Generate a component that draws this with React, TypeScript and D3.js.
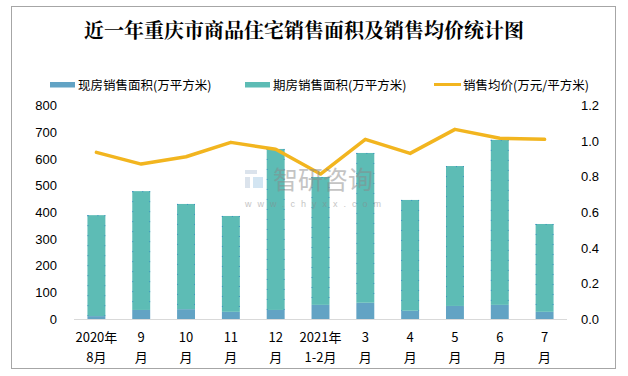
import React from "react";
import * as d3 from "d3";

const categories = ["2020年|8月", "9|月", "10|月", "11|月", "12|月", "2021年|1-2月", "3|月", "4|月", "5|月", "6|月", "7|月"];
const currentArea = [12, 35, 38, 28, 35, 54, 62, 32, 50, 54, 28];
const futureArea = [378, 445, 394, 359, 603, 479, 561, 415, 524, 618, 329];
const avgPrice = [0.938, 0.872, 0.913, 0.994, 0.955, 0.816, 1.011, 0.932, 1.067, 1.017, 1.011];
const leftTicks = [0, 100, 200, 300, 400, 500, 600, 700, 800];
const rightTicks = [0, 0.2, 0.4, 0.6, 0.8, 1.0, 1.2];

const title = "近一年重庆市商品住宅销售面积及销售均价统计图";
const legendCurrent = "现房销售面积(万平方米)";
const legendFuture = "期房销售面积(万平方米)";
const legendPrice = "销售均价(万元/平方米)";

const C_BLUE = "#62a3c4";
const C_TEAL = "#5dbcb5";
const C_ORANGE = "#f2b51f";
const FONT = "'Liberation Sans', 'Noto Sans CJK SC', sans-serif";
const CJK = "'Noto Sans CJK SC', sans-serif";

export default function App() {
  const x = d3.scaleBand<string>().domain(categories).range([74, 567]).paddingInner(0.6).paddingOuter(0.3);
  const y = d3.scaleLinear().domain([0, 800]).range([319.3, 105.7]);
  const y2 = d3.scaleLinear().domain([0, 1.2]).range([319.3, 105.7]);
  const bw = x.bandwidth();
  const cx = (c: string) => (x(c) as number) + bw / 2;

  const line = d3
    .line<number>()
    .x((_, i) => cx(categories[i]))
    .y((d) => y2(d));

  return (
    <svg
      width={628}
      height={376}
      style={{ position: "absolute", left: 0, top: 0, background: "#fff" }}
      fontFamily={FONT}
    >
      <rect x={0} y={0} width={628} height={376} fill="#fff" />
      <rect x={11.5} y={6.5} width={604} height={362} fill="none" stroke="#a6a6a6" strokeWidth={1} />

      <text x={304} y={38} textAnchor="middle" fontSize={20} fontWeight="bold" fontFamily="'Noto Serif CJK SC', 'Noto Sans CJK SC', serif" fill="#000">
        {title}
      </text>

      {/* legend */}
      <rect x={50} y={82} width={25} height={5.5} fill={C_BLUE} />
      <text x={78} y={89.5} fontSize={12.5} fontFamily={CJK} fill="#000">{legendCurrent}</text>
      <rect x={245} y={82} width={25} height={5.5} fill={C_TEAL} />
      <text x={273} y={89.5} fontSize={12.5} fontFamily={CJK} fill="#000">{legendFuture}</text>
      <line x1={434} x2={461} y1={84.5} y2={84.5} stroke={C_ORANGE} strokeWidth={3} />
      <text x={463} y={89.5} fontSize={12.5} fontFamily={CJK} fill="#000">{legendPrice}</text>

      {/* bars */}
      {categories.map((c, i) => {
        const bx = x(c) as number;
        const y0 = y(0);
        const y1 = y(currentArea[i]);
        const y2t = y(currentArea[i] + futureArea[i]);
        return (
          <g key={c}>
            <rect x={bx} y={y1} width={bw} height={y0 - y1} fill={C_BLUE} />
            <rect x={bx} y={y2t} width={bw} height={y1 - y2t} fill={C_TEAL} />
            <line x1={bx + 0.5} x2={bx + 0.5} y1={y2t} y2={y1} stroke="#3b8fc4" strokeWidth={1} strokeDasharray="1,9" />
            <line x1={bx + bw - 0.5} x2={bx + bw - 0.5} y1={y2t} y2={y1} stroke="#3b8fc4" strokeWidth={1} strokeDasharray="1,9" />
            <line x1={bx} x2={bx + bw} y1={y2t + 0.5} y2={y2t + 0.5} stroke="#3b8fc4" strokeWidth={1} strokeDasharray="1,9" />
          </g>
        );
      })}

      {/* baseline */}
      <line x1={74} x2={567} y1={319.5} y2={319.5} stroke="#d9d9d9" strokeWidth={1} />

      {/* price line */}
      <path d={line(avgPrice) || ""} fill="none" stroke={C_ORANGE} strokeWidth={3.5} strokeLinejoin="round" strokeLinecap="round" />

      {/* watermark */}
      <g opacity={0.5}>
        <rect x={245} y={170} width={12} height={4} fill="#b9c9da" />
        <rect x={245} y={177} width={5} height={11} fill="#b9c9da" />
        <rect x={253} y={177} width={10} height={11} fill="#a9cde6" />
        <text x={273} y={189} fontSize={25} fontFamily={CJK} fill="#8a8a8a">智研咨询</text>
        <text x={245} y={207} fontSize={9} fontFamily={FONT} fill="#8a8a8a" letterSpacing={6}>www.chyxx.com</text>
      </g>

      {/* left axis */}
      {leftTicks.map((t) => (
        <text key={t} x={57} y={y(t) + 4.5} textAnchor="end" fontSize={13} fill="#000">
          {t}
        </text>
      ))}
      {/* right axis */}
      {rightTicks.map((t) => (
        <text key={t} x={581} y={y2(t) + 4.5} textAnchor="start" fontSize={13} fill="#000">
          {t.toFixed(1)}
        </text>
      ))}

      {/* x labels */}
      {categories.map((c) => {
        const [a, b] = c.split("|");
        return (
          <g key={c} fontSize={13} fontFamily={CJK}>
            <text x={cx(c)} y={342} textAnchor="middle" fill="#000">{a}</text>
            <text x={cx(c)} y={362} textAnchor="middle" fill="#000">{b}</text>
          </g>
        );
      })}
    </svg>
  );
}
